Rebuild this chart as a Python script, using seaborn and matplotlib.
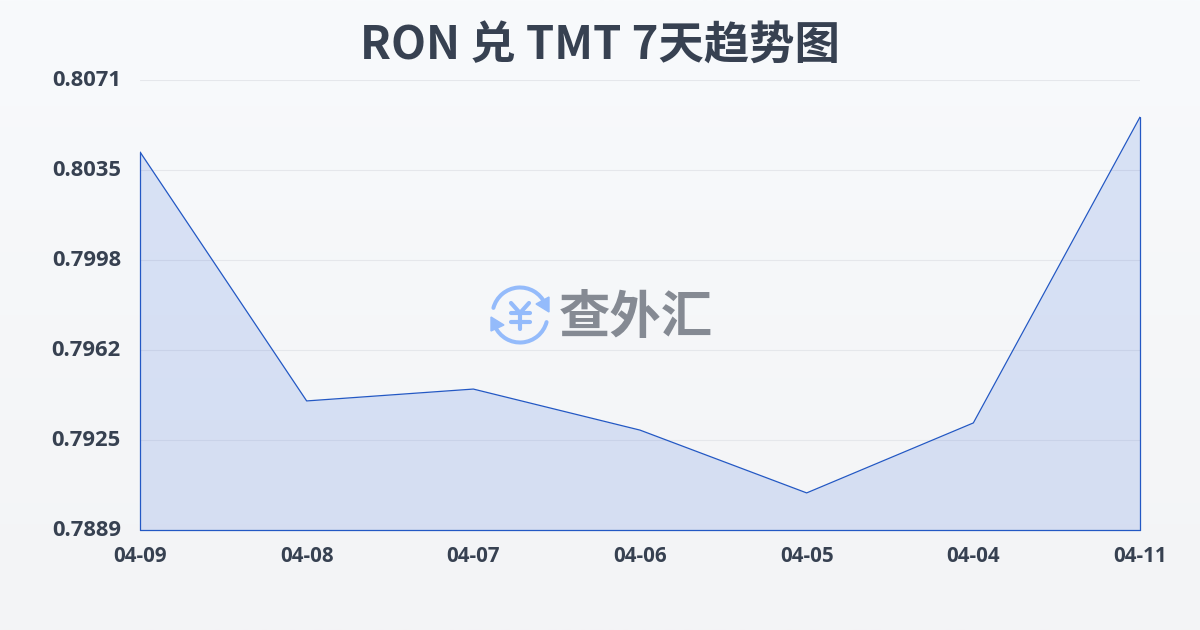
import numpy as np
import pandas as pd
import matplotlib
matplotlib.use("Agg")
import matplotlib.pyplot as plt
from matplotlib.patches import Arc, Polygon
from matplotlib.transforms import ScaledTranslation
import seaborn as sns

# Chart data
dates = ["04-09", "04-08", "04-07", "04-06", "04-05", "04-04", "04-11"]
rates = [0.80419, 0.79412, 0.79460, 0.79294, 0.79040, 0.79323, 0.80560]
y_labels = ["0.7889", "0.7925", "0.7962", "0.7998", "0.8035", "0.8071"]
y_min = 0.7889
y_max = 0.8071

sns.set_theme(style="white")
plt.rcParams["font.family"] = ["Noto Sans CJK SC", "DejaVu Sans"]

df = pd.DataFrame({"date": dates, "rate": rates})

fig = plt.figure(figsize=(12, 6.3), dpi=100)

# Page background, light vertical gradient
bg = fig.add_axes([0, 0, 1, 1], zorder=0)
grad = np.linspace(0, 1, 256).reshape(-1, 1, 1)
top = np.array([0xf8, 0xfa, 0xfc]) / 255
bottom = np.array([0xf3, 0xf4, 0xf6]) / 255
bg.imshow(top + (bottom - top) * grad, aspect="auto", extent=[0, 1200, 630, 0])
bg.axis("off")

# Plot area: x 140-1140, y 80-530 in pixels
ax = fig.add_axes([140 / 1200, 100 / 630, 1000 / 1200, 450 / 630], zorder=1)
ax.patch.set_alpha(0)

positions = np.arange(len(dates))
tick_pos = np.linspace(y_min, y_max, len(y_labels))
for t in tick_pos:
    ax.axhline(t, color="#e5e7eb", lw=0.8, zorder=1)

ax.fill_between(positions, df["rate"], y_min, color="#2a60d8", alpha=0.15, lw=0, zorder=2)
line_color = "#2358c4"
sns.lineplot(x=positions, y=df["rate"], ax=ax, color=line_color, lw=0.9, zorder=3, legend=False)
# Closing edges of the area
ax.plot([0, 0], [y_min, rates[0]], color=line_color, lw=0.9, zorder=3, clip_on=False)
ax.plot([6, 6], [y_min, rates[-1]], color=line_color, lw=0.9, zorder=3, clip_on=False)
ax.plot([0, 6], [y_min, y_min], color=line_color, lw=0.9, zorder=3, clip_on=False)

ax.set_xlim(0, len(dates) - 1)
ax.set_ylim(y_min, y_max)
ax.set_xlabel("")
ax.set_ylabel("")
ax.set_xticks(positions)
ax.set_xticklabels(dates, fontsize=14.8, fontweight="bold", color="#374151",
                   family=["Open Sans", "DejaVu Sans"])
ax.set_yticks(tick_pos)
ax.set_yticklabels(y_labels, fontsize=15.8, fontweight="bold", color="#374151",
                   family=["Open Sans", "DejaVu Sans"])
ax.tick_params(axis="x", length=0, pad=11.5)
ax.tick_params(axis="y", length=0, pad=13.7)
# y labels sit 2px above their grid lines
shift = ScaledTranslation(0, 2 / 100, fig.dpi_scale_trans)
for lab in ax.get_yticklabels():
    lab.set_transform(lab.get_transform() + shift)
sns.despine(ax=ax, left=True, bottom=True)

fig.text(0.5, 1 - 47 / 630, "RON 兑 TMT 7天趋势图", ha="center", va="center",
         fontsize=32.7, fontweight="bold", color="#374151")

# Watermark in pixel coordinates
wm = fig.add_axes([0, 0, 1, 1], zorder=2)
wm.axis("off")
blue = "#94bbfb"
wm.add_patch(Arc((520, 315), 55, 55, theta1=195, theta2=335, color=blue, lw=2.9, capstyle="round"))
wm.add_patch(Arc((520, 315), 55, 55, theta1=15, theta2=155, color=blue, lw=2.9, capstyle="round"))
wm.add_patch(Polygon([[549, 297], [549, 312], [536, 304]], color=blue))
wm.add_patch(Polygon([[491, 317], [491, 331], [504, 325]], color=blue))
# Yen sign
wm.plot([511, 520, 529], [303, 313, 303], color=blue, lw=3, solid_capstyle="round", solid_joinstyle="round")
wm.plot([520, 520], [313, 329], color=blue, lw=3, solid_capstyle="round")
wm.plot([511, 530], [313, 313], color=blue, lw=3, solid_capstyle="round")
wm.plot([511, 530], [322, 322], color=blue, lw=3, solid_capstyle="round")
wm.set_xlim(0, 1200)
wm.set_ylim(630, 0)
wm.text(636, 318, "查外汇", ha="center", va="center", fontsize=37, fontweight="bold", color="#858a93")

fig.savefig("out.png", dpi=100)
